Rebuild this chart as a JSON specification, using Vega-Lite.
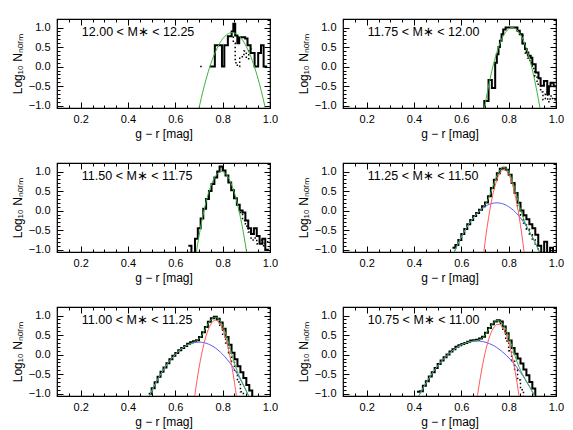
{
"$schema":"https://vega.github.io/schema/vega-lite/v6.json",
"padding":{"left":10,"top":17,"right":4,"bottom":2},
"background":"white",
"columns":2,
"spacing":{"row":55,"column":73},
"bounds":"flush",
"datasets":{
"lab":[
{"p":1,"x":0.205,"y":0.88,"t":"12.00 < M∗ < 12.25"},
{"p":2,"x":0.205,"y":0.88,"t":"11.75 < M∗ < 12.00"},
{"p":3,"x":0.205,"y":0.88,"t":"11.50 < M∗ < 11.75"},
{"p":4,"x":0.205,"y":0.88,"t":"11.25 < M∗ < 11.50"},
{"p":5,"x":0.205,"y":0.88,"t":"11.00 < M∗ < 11.25"},
{"p":6,"x":0.205,"y":0.88,"t":"10.75 < M∗ < 11.00"}
],
"c":[
{"p":1,"s":"h","x":0.745,"y":0},{"p":1,"s":"h","x":0.767,"y":0.55},{"p":1,"s":"h","x":0.797,"y":0},{"p":1,"s":"h","x":0.807,"y":0.55},{"p":1,"s":"h","x":0.822,"y":0.78},{"p":1,"s":"h","x":0.838,"y":0.9},{"p":1,"s":"h","x":0.845,"y":1.1},{"p":1,"s":"h","x":0.853,"y":0.8},{"p":1,"s":"h","x":0.862,"y":0.6},{"p":1,"s":"h","x":0.87,"y":0.75},{"p":1,"s":"h","x":0.895,"y":0.72},{"p":1,"s":"h","x":0.905,"y":0.55},{"p":1,"s":"h","x":0.918,"y":0.35},{"p":1,"s":"h","x":0.935,"y":0},{"p":1,"s":"h","x":0.95,"y":0.35},{"p":1,"s":"h","x":0.962,"y":0.55},{"p":1,"s":"h","x":0.973,"y":0},{"p":1,"s":"h","x":0.988,"y":0},
{"p":1,"s":"d","k":1,"x":0.705,"y":0},{"p":1,"s":"d","k":1,"x":0.715,"y":0},
{"p":1,"s":"d","k":2,"x":0.83,"y":0.78},{"p":1,"s":"d","k":2,"x":0.845,"y":0.6},{"p":1,"s":"d","k":2,"x":0.853,"y":0.1},{"p":1,"s":"d","k":2,"x":0.862,"y":0},{"p":1,"s":"d","k":2,"x":0.872,"y":0.25},{"p":1,"s":"d","k":2,"x":0.89,"y":0.4},{"p":1,"s":"d","k":2,"x":0.9,"y":0.2},{"p":1,"s":"d","k":2,"x":0.91,"y":0.45},{"p":1,"s":"d","k":2,"x":0.925,"y":0.45},
{"p":1,"s":"g","x":0.69,"y":-1.346},{"p":1,"s":"g","x":0.70,"y":-1.061},{"p":1,"s":"g","x":0.71,"y":-0.795},{"p":1,"s":"g","x":0.72,"y":-0.548},{"p":1,"s":"g","x":0.73,"y":-0.322},{"p":1,"s":"g","x":0.74,"y":-0.115},{"p":1,"s":"g","x":0.75,"y":0.072},{"p":1,"s":"g","x":0.76,"y":0.24},{"p":1,"s":"g","x":0.77,"y":0.387},{"p":1,"s":"g","x":0.78,"y":0.515},{"p":1,"s":"g","x":0.79,"y":0.624},{"p":1,"s":"g","x":0.80,"y":0.712},{"p":1,"s":"g","x":0.81,"y":0.781},{"p":1,"s":"g","x":0.82,"y":0.831},{"p":1,"s":"g","x":0.83,"y":0.86},{"p":1,"s":"g","x":0.84,"y":0.87},{"p":1,"s":"g","x":0.85,"y":0.86},{"p":1,"s":"g","x":0.86,"y":0.831},{"p":1,"s":"g","x":0.87,"y":0.781},{"p":1,"s":"g","x":0.88,"y":0.712},{"p":1,"s":"g","x":0.89,"y":0.624},{"p":1,"s":"g","x":0.90,"y":0.515},{"p":1,"s":"g","x":0.91,"y":0.387},{"p":1,"s":"g","x":0.92,"y":0.24},{"p":1,"s":"g","x":0.93,"y":0.072},{"p":1,"s":"g","x":0.94,"y":-0.115},{"p":1,"s":"g","x":0.95,"y":-0.322},{"p":1,"s":"g","x":0.96,"y":-0.548},{"p":1,"s":"g","x":0.97,"y":-0.795},{"p":1,"s":"g","x":0.98,"y":-1.061},{"p":1,"s":"g","x":0.99,"y":-1.346},

{"p":2,"s":"h","x":0.69,"y":-1.2},{"p":2,"s":"h","x":0.697,"y":-0.88},{"p":2,"s":"h","x":0.715,"y":-0.34},{"p":2,"s":"h","x":0.729,"y":-0.55},{"p":2,"s":"h","x":0.743,"y":0.1},{"p":2,"s":"h","x":0.75,"y":0.32},{"p":2,"s":"h","x":0.757,"y":0.5},{"p":2,"s":"h","x":0.763,"y":0.66},{"p":2,"s":"h","x":0.77,"y":0.83},{"p":2,"s":"h","x":0.777,"y":0.95},{"p":2,"s":"h","x":0.787,"y":1.0},{"p":2,"s":"h","x":0.837,"y":0.92},{"p":2,"s":"h","x":0.847,"y":0.83},{"p":2,"s":"h","x":0.858,"y":0.59},{"p":2,"s":"h","x":0.869,"y":0.45},{"p":2,"s":"h","x":0.876,"y":0.36},{"p":2,"s":"h","x":0.883,"y":0.28},{"p":2,"s":"h","x":0.893,"y":0.23},{"p":2,"s":"h","x":0.9,"y":0.06},{"p":2,"s":"h","x":0.914,"y":-0.15},{"p":2,"s":"h","x":0.926,"y":-0.3},{"p":2,"s":"h","x":0.935,"y":-0.49},{"p":2,"s":"h","x":0.949,"y":-0.37},{"p":2,"s":"h","x":0.963,"y":-0.71},{"p":2,"s":"h","x":0.97,"y":-0.5},{"p":2,"s":"h","x":0.977,"y":-0.41},{"p":2,"s":"h","x":0.99,"y":-0.5},{"p":2,"s":"h","x":1.0,"y":-0.5},
{"p":2,"s":"d","k":1,"x":0.84,"y":0.9},{"p":2,"s":"d","k":1,"x":0.85,"y":0.8},{"p":2,"s":"d","k":1,"x":0.86,"y":0.55},{"p":2,"s":"d","k":1,"x":0.87,"y":0.35},{"p":2,"s":"d","k":1,"x":0.88,"y":0.22},{"p":2,"s":"d","k":1,"x":0.89,"y":0.1},{"p":2,"s":"d","k":1,"x":0.9,"y":-0.05},{"p":2,"s":"d","k":1,"x":0.91,"y":-0.25},{"p":2,"s":"d","k":1,"x":0.92,"y":-0.45},{"p":2,"s":"d","k":1,"x":0.935,"y":-0.65},{"p":2,"s":"d","k":1,"x":0.945,"y":-0.85},{"p":2,"s":"d","k":1,"x":0.955,"y":-0.7},{"p":2,"s":"d","k":1,"x":0.965,"y":-0.9},{"p":2,"s":"d","k":1,"x":0.975,"y":-0.75},{"p":2,"s":"d","k":1,"x":0.985,"y":-0.85},{"p":2,"s":"d","k":1,"x":1.0,"y":-0.85},
{"p":2,"s":"g","x":0.695,"y":-1.16},{"p":2,"s":"g","x":0.705,"y":-0.815},{"p":2,"s":"g","x":0.715,"y":-0.5},{"p":2,"s":"g","x":0.725,"y":-0.215},{"p":2,"s":"g","x":0.735,"y":0.04},{"p":2,"s":"g","x":0.745,"y":0.265},{"p":2,"s":"g","x":0.755,"y":0.46},{"p":2,"s":"g","x":0.765,"y":0.625},{"p":2,"s":"g","x":0.775,"y":0.76},{"p":2,"s":"g","x":0.785,"y":0.865},{"p":2,"s":"g","x":0.795,"y":0.94},{"p":2,"s":"g","x":0.805,"y":0.985},{"p":2,"s":"g","x":0.815,"y":1.0},{"p":2,"s":"g","x":0.825,"y":0.985},{"p":2,"s":"g","x":0.835,"y":0.94},{"p":2,"s":"g","x":0.845,"y":0.865},{"p":2,"s":"g","x":0.855,"y":0.76},{"p":2,"s":"g","x":0.865,"y":0.625},{"p":2,"s":"g","x":0.875,"y":0.46},{"p":2,"s":"g","x":0.885,"y":0.265},{"p":2,"s":"g","x":0.895,"y":0.04},{"p":2,"s":"g","x":0.905,"y":-0.215},{"p":2,"s":"g","x":0.915,"y":-0.5},{"p":2,"s":"g","x":0.925,"y":-0.815},{"p":2,"s":"g","x":0.935,"y":-1.16},

{"p":3,"s":"h","x":0.655,"y":-0.9},{"p":3,"s":"h","x":0.668,"y":-1.2},{"p":3,"s":"h","x":0.683,"y":-0.72},{"p":3,"s":"h","x":0.695,"y":-0.45},{"p":3,"s":"h","x":0.707,"y":-0.2},{"p":3,"s":"h","x":0.718,"y":0.05},{"p":3,"s":"h","x":0.73,"y":0.3},{"p":3,"s":"h","x":0.742,"y":0.5},{"p":3,"s":"h","x":0.753,"y":0.68},{"p":3,"s":"h","x":0.765,"y":0.85},{"p":3,"s":"h","x":0.777,"y":1.0},{"p":3,"s":"h","x":0.787,"y":1.13},{"p":3,"s":"h","x":0.8,"y":1.03},{"p":3,"s":"h","x":0.812,"y":0.9},{"p":3,"s":"h","x":0.824,"y":0.72},{"p":3,"s":"h","x":0.836,"y":0.52},{"p":3,"s":"h","x":0.848,"y":0.32},{"p":3,"s":"h","x":0.86,"y":0.15},{"p":3,"s":"h","x":0.872,"y":0},{"p":3,"s":"h","x":0.884,"y":-0.05},{"p":3,"s":"h","x":0.896,"y":-0.25},{"p":3,"s":"h","x":0.908,"y":-0.45},{"p":3,"s":"h","x":0.92,"y":-0.6},{"p":3,"s":"h","x":0.932,"y":-0.45},{"p":3,"s":"h","x":0.944,"y":-0.65},{"p":3,"s":"h","x":0.956,"y":-0.85},{"p":3,"s":"h","x":0.968,"y":-0.72},{"p":3,"s":"h","x":0.98,"y":-1.0},{"p":3,"s":"h","x":0.995,"y":-1.0},
{"p":3,"s":"d","k":1,"x":0.872,"y":-0.05},{"p":3,"s":"d","k":1,"x":0.884,"y":-0.25},{"p":3,"s":"d","k":1,"x":0.896,"y":-0.4},{"p":3,"s":"d","k":1,"x":0.908,"y":-0.55},{"p":3,"s":"d","k":1,"x":0.92,"y":-0.75},{"p":3,"s":"d","k":1,"x":0.932,"y":-0.7},{"p":3,"s":"d","k":1,"x":0.944,"y":-0.85},{"p":3,"s":"d","k":1,"x":0.956,"y":-0.75},{"p":3,"s":"d","k":1,"x":0.968,"y":-0.9},{"p":3,"s":"d","k":1,"x":0.98,"y":-0.8},{"p":3,"s":"d","k":1,"x":0.995,"y":-0.8},
{"p":3,"s":"g","x":0.689,"y":-1.056},{"p":3,"s":"g","x":0.695,"y":-0.83},{"p":3,"s":"g","x":0.705,"y":-0.482},{"p":3,"s":"g","x":0.715,"y":-0.171},{"p":3,"s":"g","x":0.725,"y":0.103},{"p":3,"s":"g","x":0.735,"y":0.341},{"p":3,"s":"g","x":0.745,"y":0.543},{"p":3,"s":"g","x":0.755,"y":0.707},{"p":3,"s":"g","x":0.765,"y":0.835},{"p":3,"s":"g","x":0.775,"y":0.927},{"p":3,"s":"g","x":0.785,"y":0.982},{"p":3,"s":"g","x":0.795,"y":1.0},{"p":3,"s":"g","x":0.805,"y":0.982},{"p":3,"s":"g","x":0.815,"y":0.927},{"p":3,"s":"g","x":0.825,"y":0.835},{"p":3,"s":"g","x":0.835,"y":0.707},{"p":3,"s":"g","x":0.845,"y":0.543},{"p":3,"s":"g","x":0.855,"y":0.341},{"p":3,"s":"g","x":0.865,"y":0.103},{"p":3,"s":"g","x":0.875,"y":-0.171},{"p":3,"s":"g","x":0.885,"y":-0.482},{"p":3,"s":"g","x":0.895,"y":-0.83},{"p":3,"s":"g","x":0.905,"y":-1.214},

{"p":4,"s":"h","x":0.5625,"y":-0.95},{"p":4,"s":"h","x":0.575,"y":-0.88},{"p":4,"s":"h","x":0.5875,"y":-0.75},{"p":4,"s":"h","x":0.6,"y":-0.6},{"p":4,"s":"h","x":0.6125,"y":-0.47},{"p":4,"s":"h","x":0.625,"y":-0.35},{"p":4,"s":"h","x":0.6375,"y":-0.24},{"p":4,"s":"h","x":0.65,"y":-0.14},{"p":4,"s":"h","x":0.6625,"y":-0.06},{"p":4,"s":"h","x":0.675,"y":0.02},{"p":4,"s":"h","x":0.6875,"y":0.11},{"p":4,"s":"h","x":0.7,"y":0.21},{"p":4,"s":"h","x":0.7125,"y":0.37},{"p":4,"s":"h","x":0.725,"y":0.58},{"p":4,"s":"h","x":0.7375,"y":0.79},{"p":4,"s":"h","x":0.75,"y":0.96},{"p":4,"s":"h","x":0.7625,"y":1.07},{"p":4,"s":"h","x":0.775,"y":1.1},{"p":4,"s":"h","x":0.7875,"y":1.05},{"p":4,"s":"h","x":0.8,"y":0.92},{"p":4,"s":"h","x":0.8125,"y":0.71},{"p":4,"s":"h","x":0.825,"y":0.45},{"p":4,"s":"h","x":0.8375,"y":0.2},{"p":4,"s":"h","x":0.85,"y":0.0},{"p":4,"s":"h","x":0.8625,"y":-0.12},{"p":4,"s":"h","x":0.875,"y":-0.22},{"p":4,"s":"h","x":0.8875,"y":-0.35},{"p":4,"s":"h","x":0.9,"y":-0.45},{"p":4,"s":"h","x":0.9125,"y":-0.62},{"p":4,"s":"h","x":0.925,"y":-0.9},{"p":4,"s":"h","x":0.9375,"y":-1.2},{"p":4,"s":"h","x":0.95,"y":-0.8},{"p":4,"s":"h","x":0.9625,"y":-1.2},{"p":4,"s":"h","x":0.975,"y":-0.95},{"p":4,"s":"h","x":0.9875,"y":-1.2},{"p":4,"s":"h","x":1.0,"y":-1.2},
{"p":4,"s":"d","k":1,"x":0.8125,"y":0.71},{"p":4,"s":"d","k":1,"x":0.825,"y":0.42},{"p":4,"s":"d","k":1,"x":0.8375,"y":0.12},{"p":4,"s":"d","k":1,"x":0.85,"y":-0.12},{"p":4,"s":"d","k":1,"x":0.8625,"y":-0.32},{"p":4,"s":"d","k":1,"x":0.875,"y":-0.48},{"p":4,"s":"d","k":1,"x":0.8875,"y":-0.62},{"p":4,"s":"d","k":1,"x":0.9,"y":-0.75},{"p":4,"s":"d","k":1,"x":0.9125,"y":-0.9},{"p":4,"s":"d","k":1,"x":0.925,"y":-1.2},
{"p":4,"s":"b","x":0.56,"y":-1.204},{"p":4,"s":"b","x":0.58,"y":-0.924},{"p":4,"s":"b","x":0.60,"y":-0.675},{"p":4,"s":"b","x":0.62,"y":-0.457},{"p":4,"s":"b","x":0.64,"y":-0.271},{"p":4,"s":"b","x":0.66,"y":-0.115},{"p":4,"s":"b","x":0.68,"y":0.009},{"p":4,"s":"b","x":0.70,"y":0.103},{"p":4,"s":"b","x":0.72,"y":0.165},{"p":4,"s":"b","x":0.74,"y":0.196},{"p":4,"s":"b","x":0.75,"y":0.2},{"p":4,"s":"b","x":0.76,"y":0.196},{"p":4,"s":"b","x":0.78,"y":0.165},{"p":4,"s":"b","x":0.80,"y":0.103},{"p":4,"s":"b","x":0.82,"y":0.009},{"p":4,"s":"b","x":0.84,"y":-0.115},{"p":4,"s":"b","x":0.86,"y":-0.271},{"p":4,"s":"b","x":0.88,"y":-0.457},{"p":4,"s":"b","x":0.90,"y":-0.675},{"p":4,"s":"b","x":0.92,"y":-0.924},{"p":4,"s":"b","x":0.94,"y":-1.204},
{"p":4,"s":"r","x":0.695,"y":-1.06},{"p":4,"s":"r","x":0.70,"y":-0.819},{"p":4,"s":"r","x":0.71,"y":-0.381},{"p":4,"s":"r","x":0.72,"y":-0.001},{"p":4,"s":"r","x":0.73,"y":0.32},{"p":4,"s":"r","x":0.74,"y":0.583},{"p":4,"s":"r","x":0.75,"y":0.787},{"p":4,"s":"r","x":0.76,"y":0.933},{"p":4,"s":"r","x":0.77,"y":1.021},{"p":4,"s":"r","x":0.78,"y":1.05},{"p":4,"s":"r","x":0.79,"y":1.021},{"p":4,"s":"r","x":0.80,"y":0.933},{"p":4,"s":"r","x":0.81,"y":0.787},{"p":4,"s":"r","x":0.82,"y":0.583},{"p":4,"s":"r","x":0.83,"y":0.32},{"p":4,"s":"r","x":0.84,"y":-0.001},{"p":4,"s":"r","x":0.85,"y":-0.381},{"p":4,"s":"r","x":0.86,"y":-0.819},{"p":4,"s":"r","x":0.865,"y":-1.06},
{"p":4,"s":"g","x":0.56,"y":-1.204},{"p":4,"s":"g","x":0.57,"y":-1.06},{"p":4,"s":"g","x":0.58,"y":-0.924},{"p":4,"s":"g","x":0.59,"y":-0.796},{"p":4,"s":"g","x":0.60,"y":-0.675},{"p":4,"s":"g","x":0.61,"y":-0.562},{"p":4,"s":"g","x":0.62,"y":-0.457},{"p":4,"s":"g","x":0.63,"y":-0.36},{"p":4,"s":"g","x":0.64,"y":-0.271},{"p":4,"s":"g","x":0.65,"y":-0.189},{"p":4,"s":"g","x":0.66,"y":-0.115},{"p":4,"s":"g","x":0.67,"y":-0.049},{"p":4,"s":"g","x":0.68,"y":0.015},{"p":4,"s":"g","x":0.69,"y":0.078},{"p":4,"s":"g","x":0.70,"y":0.152},{"p":4,"s":"g","x":0.71,"y":0.253},{"p":4,"s":"g","x":0.72,"y":0.391},{"p":4,"s":"g","x":0.73,"y":0.558},{"p":4,"s":"g","x":0.74,"y":0.732},{"p":4,"s":"g","x":0.75,"y":0.887},{"p":4,"s":"g","x":0.76,"y":1.006},{"p":4,"s":"g","x":0.77,"y":1.08},{"p":4,"s":"g","x":0.78,"y":1.103},{"p":4,"s":"g","x":0.79,"y":1.075},{"p":4,"s":"g","x":0.80,"y":0.993},{"p":4,"s":"g","x":0.81,"y":0.862},{"p":4,"s":"g","x":0.82,"y":0.686},{"p":4,"s":"g","x":0.83,"y":0.475},{"p":4,"s":"g","x":0.84,"y":0.247},{"p":4,"s":"g","x":0.85,"y":0.027},{"p":4,"s":"g","x":0.86,"y":-0.162},{"p":4,"s":"g","x":0.87,"y":-0.314},{"p":4,"s":"g","x":0.88,"y":-0.44},{"p":4,"s":"g","x":0.89,"y":-0.557},{"p":4,"s":"g","x":0.90,"y":-0.675},{"p":4,"s":"g","x":0.91,"y":-0.796},{"p":4,"s":"g","x":0.92,"y":-0.924},{"p":4,"s":"g","x":0.93,"y":-1.06},{"p":4,"s":"g","x":0.94,"y":-1.204},

{"p":5,"s":"h","x":0.4875,"y":-1.0},{"p":5,"s":"h","x":0.5,"y":-0.86},{"p":5,"s":"h","x":0.5125,"y":-0.71},{"p":5,"s":"h","x":0.525,"y":-0.57},{"p":5,"s":"h","x":0.5375,"y":-0.44},{"p":5,"s":"h","x":0.55,"y":-0.33},{"p":5,"s":"h","x":0.5625,"y":-0.22},{"p":5,"s":"h","x":0.575,"y":-0.12},{"p":5,"s":"h","x":0.5875,"y":-0.03},{"p":5,"s":"h","x":0.6,"y":0.04},{"p":5,"s":"h","x":0.6125,"y":0.11},{"p":5,"s":"h","x":0.625,"y":0.17},{"p":5,"s":"h","x":0.6375,"y":0.22},{"p":5,"s":"h","x":0.65,"y":0.28},{"p":5,"s":"h","x":0.6625,"y":0.32},{"p":5,"s":"h","x":0.675,"y":0.34},{"p":5,"s":"h","x":0.6875,"y":0.37},{"p":5,"s":"h","x":0.7,"y":0.45},{"p":5,"s":"h","x":0.7125,"y":0.57},{"p":5,"s":"h","x":0.725,"y":0.71},{"p":5,"s":"h","x":0.7375,"y":0.84},{"p":5,"s":"h","x":0.75,"y":0.93},{"p":5,"s":"h","x":0.7625,"y":0.97},{"p":5,"s":"h","x":0.775,"y":0.92},{"p":5,"s":"h","x":0.7875,"y":0.82},{"p":5,"s":"h","x":0.8,"y":0.66},{"p":5,"s":"h","x":0.8125,"y":0.45},{"p":5,"s":"h","x":0.825,"y":0.25},{"p":5,"s":"h","x":0.8375,"y":0.05},{"p":5,"s":"h","x":0.85,"y":-0.12},{"p":5,"s":"h","x":0.8625,"y":-0.3},{"p":5,"s":"h","x":0.875,"y":-0.45},{"p":5,"s":"h","x":0.8875,"y":-0.6},{"p":5,"s":"h","x":0.9,"y":-0.78},{"p":5,"s":"h","x":0.9125,"y":-0.92},{"p":5,"s":"h","x":0.925,"y":-1.2},{"p":5,"s":"h","x":0.9375,"y":-1.2},
{"p":5,"s":"d","k":1,"x":0.7625,"y":0.93},{"p":5,"s":"d","k":1,"x":0.775,"y":0.85},{"p":5,"s":"d","k":1,"x":0.7875,"y":0.72},{"p":5,"s":"d","k":1,"x":0.8,"y":0.52},{"p":5,"s":"d","k":1,"x":0.8125,"y":0.3},{"p":5,"s":"d","k":1,"x":0.825,"y":0.05},{"p":5,"s":"d","k":1,"x":0.8375,"y":-0.2},{"p":5,"s":"d","k":1,"x":0.85,"y":-0.45},{"p":5,"s":"d","k":1,"x":0.8625,"y":-0.7},{"p":5,"s":"d","k":1,"x":0.875,"y":-0.95},{"p":5,"s":"d","k":1,"x":0.8875,"y":-1.2},
{"p":5,"s":"b","x":0.48,"y":-1.195},{"p":5,"s":"b","x":0.50,"y":-0.932},{"p":5,"s":"b","x":0.52,"y":-0.694},{"p":5,"s":"b","x":0.54,"y":-0.481},{"p":5,"s":"b","x":0.56,"y":-0.293},{"p":5,"s":"b","x":0.58,"y":-0.131},{"p":5,"s":"b","x":0.60,"y":0.007},{"p":5,"s":"b","x":0.62,"y":0.12},{"p":5,"s":"b","x":0.64,"y":0.207},{"p":5,"s":"b","x":0.66,"y":0.27},{"p":5,"s":"b","x":0.68,"y":0.3075},{"p":5,"s":"b","x":0.70,"y":0.32},{"p":5,"s":"b","x":0.72,"y":0.3075},{"p":5,"s":"b","x":0.74,"y":0.27},{"p":5,"s":"b","x":0.76,"y":0.207},{"p":5,"s":"b","x":0.78,"y":0.12},{"p":5,"s":"b","x":0.80,"y":0.007},{"p":5,"s":"b","x":0.82,"y":-0.131},{"p":5,"s":"b","x":0.84,"y":-0.293},{"p":5,"s":"b","x":0.86,"y":-0.481},{"p":5,"s":"b","x":0.88,"y":-0.694},{"p":5,"s":"b","x":0.90,"y":-0.932},{"p":5,"s":"b","x":0.92,"y":-1.195},
{"p":5,"s":"r","x":0.682,"y":-1.06},{"p":5,"s":"r","x":0.69,"y":-0.72},{"p":5,"s":"r","x":0.70,"y":-0.345},{"p":5,"s":"r","x":0.71,"y":-0.02},{"p":5,"s":"r","x":0.72,"y":0.255},{"p":5,"s":"r","x":0.73,"y":0.48},{"p":5,"s":"r","x":0.74,"y":0.655},{"p":5,"s":"r","x":0.75,"y":0.78},{"p":5,"s":"r","x":0.76,"y":0.855},{"p":5,"s":"r","x":0.77,"y":0.88},{"p":5,"s":"r","x":0.78,"y":0.855},{"p":5,"s":"r","x":0.79,"y":0.78},{"p":5,"s":"r","x":0.80,"y":0.655},{"p":5,"s":"r","x":0.81,"y":0.48},{"p":5,"s":"r","x":0.82,"y":0.255},{"p":5,"s":"r","x":0.83,"y":-0.02},{"p":5,"s":"r","x":0.84,"y":-0.345},{"p":5,"s":"r","x":0.85,"y":-0.72},{"p":5,"s":"r","x":0.858,"y":-1.06},
{"p":5,"s":"g","x":0.48,"y":-1.195},{"p":5,"s":"g","x":0.50,"y":-0.932},{"p":5,"s":"g","x":0.52,"y":-0.694},{"p":5,"s":"g","x":0.54,"y":-0.481},{"p":5,"s":"g","x":0.56,"y":-0.293},{"p":5,"s":"g","x":0.58,"y":-0.131},{"p":5,"s":"g","x":0.60,"y":0.007},{"p":5,"s":"g","x":0.62,"y":0.12},{"p":5,"s":"g","x":0.64,"y":0.207},{"p":5,"s":"g","x":0.66,"y":0.272},{"p":5,"s":"g","x":0.67,"y":0.297},{"p":5,"s":"g","x":0.68,"y":0.323},{"p":5,"s":"g","x":0.69,"y":0.355},{"p":5,"s":"g","x":0.70,"y":0.405},{"p":5,"s":"g","x":0.71,"y":0.481},{"p":5,"s":"g","x":0.72,"y":0.583},{"p":5,"s":"g","x":0.73,"y":0.697},{"p":5,"s":"g","x":0.74,"y":0.805},{"p":5,"s":"g","x":0.75,"y":0.891},{"p":5,"s":"g","x":0.76,"y":0.943},{"p":5,"s":"g","x":0.77,"y":0.957},{"p":5,"s":"g","x":0.78,"y":0.928},{"p":5,"s":"g","x":0.79,"y":0.857},{"p":5,"s":"g","x":0.80,"y":0.743},{"p":5,"s":"g","x":0.81,"y":0.59},{"p":5,"s":"g","x":0.82,"y":0.405},{"p":5,"s":"g","x":0.83,"y":0.197},{"p":5,"s":"g","x":0.84,"y":-0.017},{"p":5,"s":"g","x":0.85,"y":-0.22},{"p":5,"s":"g","x":0.86,"y":-0.396},{"p":5,"s":"g","x":0.87,"y":-0.547},{"p":5,"s":"g","x":0.88,"y":-0.68},{"p":5,"s":"g","x":0.90,"y":-0.932},{"p":5,"s":"g","x":0.92,"y":-1.195},

{"p":6,"s":"h","x":0.4125,"y":-0.95},{"p":6,"s":"h","x":0.425,"y":-0.94},{"p":6,"s":"h","x":0.4375,"y":-0.8},{"p":6,"s":"h","x":0.45,"y":-0.68},{"p":6,"s":"h","x":0.4625,"y":-0.56},{"p":6,"s":"h","x":0.475,"y":-0.45},{"p":6,"s":"h","x":0.4875,"y":-0.34},{"p":6,"s":"h","x":0.5,"y":-0.24},{"p":6,"s":"h","x":0.5125,"y":-0.15},{"p":6,"s":"h","x":0.525,"y":-0.07},{"p":6,"s":"h","x":0.5375,"y":0.0},{"p":6,"s":"h","x":0.55,"y":0.08},{"p":6,"s":"h","x":0.5625,"y":0.14},{"p":6,"s":"h","x":0.575,"y":0.2},{"p":6,"s":"h","x":0.5875,"y":0.24},{"p":6,"s":"h","x":0.6,"y":0.27},{"p":6,"s":"h","x":0.6125,"y":0.3},{"p":6,"s":"h","x":0.625,"y":0.33},{"p":6,"s":"h","x":0.6375,"y":0.36},{"p":6,"s":"h","x":0.65,"y":0.37},{"p":6,"s":"h","x":0.6625,"y":0.38},{"p":6,"s":"h","x":0.675,"y":0.41},{"p":6,"s":"h","x":0.6875,"y":0.46},{"p":6,"s":"h","x":0.7,"y":0.56},{"p":6,"s":"h","x":0.7125,"y":0.68},{"p":6,"s":"h","x":0.725,"y":0.78},{"p":6,"s":"h","x":0.7375,"y":0.85},{"p":6,"s":"h","x":0.75,"y":0.88},{"p":6,"s":"h","x":0.7625,"y":0.85},{"p":6,"s":"h","x":0.775,"y":0.72},{"p":6,"s":"h","x":0.7875,"y":0.55},{"p":6,"s":"h","x":0.8,"y":0.36},{"p":6,"s":"h","x":0.8125,"y":0.17},{"p":6,"s":"h","x":0.825,"y":0.02},{"p":6,"s":"h","x":0.8375,"y":-0.1},{"p":6,"s":"h","x":0.85,"y":-0.23},{"p":6,"s":"h","x":0.8625,"y":-0.38},{"p":6,"s":"h","x":0.875,"y":-0.53},{"p":6,"s":"h","x":0.8875,"y":-0.7},{"p":6,"s":"h","x":0.9,"y":-0.87},{"p":6,"s":"h","x":0.9125,"y":-1.2},{"p":6,"s":"h","x":0.925,"y":-1.2},
{"p":6,"s":"d","k":1,"x":0.7625,"y":0.8},{"p":6,"s":"d","k":1,"x":0.775,"y":0.6},{"p":6,"s":"d","k":1,"x":0.7875,"y":0.35},{"p":6,"s":"d","k":1,"x":0.8,"y":0.1},{"p":6,"s":"d","k":1,"x":0.8125,"y":-0.15},{"p":6,"s":"d","k":1,"x":0.825,"y":-0.4},{"p":6,"s":"d","k":1,"x":0.8375,"y":-0.65},{"p":6,"s":"d","k":1,"x":0.85,"y":-0.9},{"p":6,"s":"d","k":1,"x":0.8625,"y":-1.2},
{"p":6,"s":"b","x":0.40,"y":-1.3},{"p":6,"s":"b","x":0.42,"y":-1.061},{"p":6,"s":"b","x":0.44,"y":-0.84},{"p":6,"s":"b","x":0.46,"y":-0.638},{"p":6,"s":"b","x":0.48,"y":-0.454},{"p":6,"s":"b","x":0.50,"y":-0.29},{"p":6,"s":"b","x":0.52,"y":-0.144},{"p":6,"s":"b","x":0.54,"y":-0.017},{"p":6,"s":"b","x":0.56,"y":0.091},{"p":6,"s":"b","x":0.58,"y":0.18},{"p":6,"s":"b","x":0.60,"y":0.251},{"p":6,"s":"b","x":0.62,"y":0.302},{"p":6,"s":"b","x":0.64,"y":0.335},{"p":6,"s":"b","x":0.665,"y":0.35},{"p":6,"s":"b","x":0.69,"y":0.335},{"p":6,"s":"b","x":0.71,"y":0.302},{"p":6,"s":"b","x":0.73,"y":0.251},{"p":6,"s":"b","x":0.75,"y":0.18},{"p":6,"s":"b","x":0.77,"y":0.091},{"p":6,"s":"b","x":0.79,"y":-0.017},{"p":6,"s":"b","x":0.81,"y":-0.144},{"p":6,"s":"b","x":0.83,"y":-0.29},{"p":6,"s":"b","x":0.85,"y":-0.454},{"p":6,"s":"b","x":0.87,"y":-0.638},{"p":6,"s":"b","x":0.89,"y":-0.84},{"p":6,"s":"b","x":0.91,"y":-1.061},{"p":6,"s":"b","x":0.93,"y":-1.3},
{"p":6,"s":"r","x":0.666,"y":-1.148},{"p":6,"s":"r","x":0.67,"y":-0.98},{"p":6,"s":"r","x":0.68,"y":-0.595},{"p":6,"s":"r","x":0.69,"y":-0.257},{"p":6,"s":"r","x":0.70,"y":0.034},{"p":6,"s":"r","x":0.71,"y":0.276},{"p":6,"s":"r","x":0.72,"y":0.472},{"p":6,"s":"r","x":0.73,"y":0.619},{"p":6,"s":"r","x":0.74,"y":0.719},{"p":6,"s":"r","x":0.75,"y":0.771},{"p":6,"s":"r","x":0.76,"y":0.776},{"p":6,"s":"r","x":0.77,"y":0.733},{"p":6,"s":"r","x":0.78,"y":0.643},{"p":6,"s":"r","x":0.79,"y":0.505},{"p":6,"s":"r","x":0.80,"y":0.319},{"p":6,"s":"r","x":0.81,"y":0.086},{"p":6,"s":"r","x":0.82,"y":-0.195},{"p":6,"s":"r","x":0.83,"y":-0.523},{"p":6,"s":"r","x":0.84,"y":-0.899},{"p":6,"s":"r","x":0.846,"y":-1.148},
{"p":6,"s":"g","x":0.40,"y":-1.3},{"p":6,"s":"g","x":0.42,"y":-1.061},{"p":6,"s":"g","x":0.44,"y":-0.84},{"p":6,"s":"g","x":0.46,"y":-0.638},{"p":6,"s":"g","x":0.48,"y":-0.454},{"p":6,"s":"g","x":0.50,"y":-0.29},{"p":6,"s":"g","x":0.52,"y":-0.144},{"p":6,"s":"g","x":0.54,"y":-0.017},{"p":6,"s":"g","x":0.56,"y":0.091},{"p":6,"s":"g","x":0.58,"y":0.18},{"p":6,"s":"g","x":0.60,"y":0.251},{"p":6,"s":"g","x":0.62,"y":0.302},{"p":6,"s":"g","x":0.64,"y":0.335},{"p":6,"s":"g","x":0.66,"y":0.355},{"p":6,"s":"g","x":0.67,"y":0.369},{"p":6,"s":"g","x":0.68,"y":0.392},{"p":6,"s":"g","x":0.69,"y":0.434},{"p":6,"s":"g","x":0.70,"y":0.502},{"p":6,"s":"g","x":0.71,"y":0.59},{"p":6,"s":"g","x":0.72,"y":0.687},{"p":6,"s":"g","x":0.73,"y":0.774},{"p":6,"s":"g","x":0.74,"y":0.838},{"p":6,"s":"g","x":0.75,"y":0.87},{"p":6,"s":"g","x":0.76,"y":0.866},{"p":6,"s":"g","x":0.77,"y":0.822},{"p":6,"s":"g","x":0.78,"y":0.739},{"p":6,"s":"g","x":0.79,"y":0.619},{"p":6,"s":"g","x":0.80,"y":0.465},{"p":6,"s":"g","x":0.81,"y":0.287},{"p":6,"s":"g","x":0.82,"y":0.096},{"p":6,"s":"g","x":0.83,"y":-0.09},{"p":6,"s":"g","x":0.84,"y":-0.257},{"p":6,"s":"g","x":0.85,"y":-0.398},{"p":6,"s":"g","x":0.86,"y":-0.52},{"p":6,"s":"g","x":0.87,"y":-0.629},{"p":6,"s":"g","x":0.88,"y":-0.732},{"p":6,"s":"g","x":0.89,"y":-0.84},{"p":6,"s":"g","x":0.90,"y":-0.948},{"p":6,"s":"g","x":0.91,"y":-1.061},{"p":6,"s":"g","x":0.93,"y":-1.3}
]
},
"concat":[
{"width":213,"height":89,"resolve":{"axis":{"x":"independent","y":"independent"}},"layer":[
{"data":{"name":"c"},"transform":[{"filter":"datum.p==1 && datum.s=='h'"}],"mark":{"type":"line","interpolate":"step-after","color":"black","strokeWidth":2,"clip":true},"encoding":{"x":{"field":"x","type":"quantitative","scale":{"domain":[0.1,1.0]},"axis":{"orient":"bottom","values":[0.1,0.15,0.2,0.25,0.3,0.35,0.4,0.45,0.5,0.55,0.6,0.65,0.7,0.75,0.8,0.85,0.9,0.95,1.0],"labelExpr":"abs(datum.value*5-round(datum.value*5))<0.001?format(datum.value,'.1f'):''","tickSize":{"condition":{"test":"abs(datum.value*5-round(datum.value*5))<0.001","value":-6},"value":-3},"labelPadding":11,"title":"g − r [mag]","titlePadding":1}},"y":{"field":"y","type":"quantitative","scale":{"domain":[-1.06,1.22]},"axis":{"orient":"left","values":[-1.0,-0.9,-0.8,-0.7,-0.6,-0.5,-0.4,-0.3,-0.2,-0.1,0.0,0.1,0.2,0.3,0.4,0.5,0.6,0.7,0.8,0.9,1.0],"labelExpr":"abs(datum.value*2-round(datum.value*2))<0.001?format(datum.value,'.1f'):''","tickSize":{"condition":{"test":"abs(datum.value*2-round(datum.value*2))<0.001","value":-6},"value":-3},"labelPadding":13,"title":"Log₁₀ Nₙₒᵣₘ","titlePadding":4}}}},
{"data":{"name":"c"},"transform":[{"filter":"datum.p==1 && datum.s=='d'"}],"mark":{"type":"line","interpolate":"step-after","color":"black","strokeWidth":1.5,"strokeDash":[1.5,2.5],"clip":true},"encoding":{"detail":{"field":"k","type":"nominal"},"x":{"field":"x","type":"quantitative","scale":{"domain":[0.1,1.0]},"axis":{"orient":"top","values":[0.1,0.15,0.2,0.25,0.3,0.35,0.4,0.45,0.5,0.55,0.6,0.65,0.7,0.75,0.8,0.85,0.9,0.95,1.0],"labels":false,"tickSize":{"condition":{"test":"abs(datum.value*5-round(datum.value*5))<0.001","value":-6},"value":-3},"title":null}},"y":{"field":"y","type":"quantitative","scale":{"domain":[-1.06,1.22]},"axis":{"orient":"right","values":[-1.0,-0.9,-0.8,-0.7,-0.6,-0.5,-0.4,-0.3,-0.2,-0.1,0.0,0.1,0.2,0.3,0.4,0.5,0.6,0.7,0.8,0.9,1.0,1.1,1.2],"labels":false,"tickSize":{"condition":{"test":"abs(datum.value*2-round(datum.value*2))<0.001","value":-6},"value":-3},"title":null}}}},
{"data":{"name":"c"},"transform":[{"filter":"datum.p==1 && datum.s=='g'"}],"mark":{"type":"line","interpolate":"monotone","color":"#3cb43c","strokeWidth":1,"clip":true},"encoding":{"x":{"field":"x","type":"quantitative","scale":{"domain":[0.1,1.0]},"axis":null},"y":{"field":"y","type":"quantitative","scale":{"domain":[-1.06,1.22]},"axis":null}}},
{"data":{"name":"lab"},"transform":[{"filter":"datum.p==1"}],"mark":{"type":"text","align":"left","baseline":"middle","fontSize":12.5,"font":"Liberation Sans","color":"black"},"encoding":{"x":{"field":"x","type":"quantitative","scale":{"domain":[0.1,1.0]},"axis":null},"y":{"field":"y","type":"quantitative","scale":{"domain":[-1.06,1.22]},"axis":null},"text":{"field":"t"}}}
]},
{"width":213,"height":89,"resolve":{"axis":{"x":"independent","y":"independent"}},"layer":[
{"data":{"name":"c"},"transform":[{"filter":"datum.p==2 && datum.s=='h'"}],"mark":{"type":"line","interpolate":"step-after","color":"black","strokeWidth":2,"clip":true},"encoding":{"x":{"field":"x","type":"quantitative","scale":{"domain":[0.1,1.0]},"axis":{"orient":"bottom","values":[0.1,0.15,0.2,0.25,0.3,0.35,0.4,0.45,0.5,0.55,0.6,0.65,0.7,0.75,0.8,0.85,0.9,0.95,1.0],"labelExpr":"abs(datum.value*5-round(datum.value*5))<0.001?format(datum.value,'.1f'):''","tickSize":{"condition":{"test":"abs(datum.value*5-round(datum.value*5))<0.001","value":-6},"value":-3},"labelPadding":11,"title":"g − r [mag]","titlePadding":1}},"y":{"field":"y","type":"quantitative","scale":{"domain":[-1.06,1.22]},"axis":{"orient":"left","values":[-1.0,-0.9,-0.8,-0.7,-0.6,-0.5,-0.4,-0.3,-0.2,-0.1,0.0,0.1,0.2,0.3,0.4,0.5,0.6,0.7,0.8,0.9,1.0],"labelExpr":"abs(datum.value*2-round(datum.value*2))<0.001?format(datum.value,'.1f'):''","tickSize":{"condition":{"test":"abs(datum.value*2-round(datum.value*2))<0.001","value":-6},"value":-3},"labelPadding":13,"title":"Log₁₀ Nₙₒᵣₘ","titlePadding":4}}}},
{"data":{"name":"c"},"transform":[{"filter":"datum.p==2 && datum.s=='d'"}],"mark":{"type":"line","interpolate":"step-after","color":"black","strokeWidth":1.5,"strokeDash":[1.5,2.5],"clip":true},"encoding":{"detail":{"field":"k","type":"nominal"},"x":{"field":"x","type":"quantitative","scale":{"domain":[0.1,1.0]},"axis":{"orient":"top","values":[0.1,0.15,0.2,0.25,0.3,0.35,0.4,0.45,0.5,0.55,0.6,0.65,0.7,0.75,0.8,0.85,0.9,0.95,1.0],"labels":false,"tickSize":{"condition":{"test":"abs(datum.value*5-round(datum.value*5))<0.001","value":-6},"value":-3},"title":null}},"y":{"field":"y","type":"quantitative","scale":{"domain":[-1.06,1.22]},"axis":{"orient":"right","values":[-1.0,-0.9,-0.8,-0.7,-0.6,-0.5,-0.4,-0.3,-0.2,-0.1,0.0,0.1,0.2,0.3,0.4,0.5,0.6,0.7,0.8,0.9,1.0,1.1,1.2],"labels":false,"tickSize":{"condition":{"test":"abs(datum.value*2-round(datum.value*2))<0.001","value":-6},"value":-3},"title":null}}}},
{"data":{"name":"c"},"transform":[{"filter":"datum.p==2 && datum.s=='g'"}],"mark":{"type":"line","interpolate":"monotone","color":"#3cb43c","strokeWidth":1,"clip":true},"encoding":{"x":{"field":"x","type":"quantitative","scale":{"domain":[0.1,1.0]},"axis":null},"y":{"field":"y","type":"quantitative","scale":{"domain":[-1.06,1.22]},"axis":null}}},
{"data":{"name":"lab"},"transform":[{"filter":"datum.p==2"}],"mark":{"type":"text","align":"left","baseline":"middle","fontSize":12.5,"font":"Liberation Sans","color":"black"},"encoding":{"x":{"field":"x","type":"quantitative","scale":{"domain":[0.1,1.0]},"axis":null},"y":{"field":"y","type":"quantitative","scale":{"domain":[-1.06,1.22]},"axis":null},"text":{"field":"t"}}}
]},
{"width":213,"height":89,"resolve":{"axis":{"x":"independent","y":"independent"}},"layer":[
{"data":{"name":"c"},"transform":[{"filter":"datum.p==3 && datum.s=='h'"}],"mark":{"type":"line","interpolate":"step-after","color":"black","strokeWidth":2,"clip":true},"encoding":{"x":{"field":"x","type":"quantitative","scale":{"domain":[0.1,1.0]},"axis":{"orient":"bottom","values":[0.1,0.15,0.2,0.25,0.3,0.35,0.4,0.45,0.5,0.55,0.6,0.65,0.7,0.75,0.8,0.85,0.9,0.95,1.0],"labelExpr":"abs(datum.value*5-round(datum.value*5))<0.001?format(datum.value,'.1f'):''","tickSize":{"condition":{"test":"abs(datum.value*5-round(datum.value*5))<0.001","value":-6},"value":-3},"labelPadding":11,"title":"g − r [mag]","titlePadding":1}},"y":{"field":"y","type":"quantitative","scale":{"domain":[-1.06,1.22]},"axis":{"orient":"left","values":[-1.0,-0.9,-0.8,-0.7,-0.6,-0.5,-0.4,-0.3,-0.2,-0.1,0.0,0.1,0.2,0.3,0.4,0.5,0.6,0.7,0.8,0.9,1.0],"labelExpr":"abs(datum.value*2-round(datum.value*2))<0.001?format(datum.value,'.1f'):''","tickSize":{"condition":{"test":"abs(datum.value*2-round(datum.value*2))<0.001","value":-6},"value":-3},"labelPadding":13,"title":"Log₁₀ Nₙₒᵣₘ","titlePadding":4}}}},
{"data":{"name":"c"},"transform":[{"filter":"datum.p==3 && datum.s=='d'"}],"mark":{"type":"line","interpolate":"step-after","color":"black","strokeWidth":1.5,"strokeDash":[1.5,2.5],"clip":true},"encoding":{"detail":{"field":"k","type":"nominal"},"x":{"field":"x","type":"quantitative","scale":{"domain":[0.1,1.0]},"axis":{"orient":"top","values":[0.1,0.15,0.2,0.25,0.3,0.35,0.4,0.45,0.5,0.55,0.6,0.65,0.7,0.75,0.8,0.85,0.9,0.95,1.0],"labels":false,"tickSize":{"condition":{"test":"abs(datum.value*5-round(datum.value*5))<0.001","value":-6},"value":-3},"title":null}},"y":{"field":"y","type":"quantitative","scale":{"domain":[-1.06,1.22]},"axis":{"orient":"right","values":[-1.0,-0.9,-0.8,-0.7,-0.6,-0.5,-0.4,-0.3,-0.2,-0.1,0.0,0.1,0.2,0.3,0.4,0.5,0.6,0.7,0.8,0.9,1.0,1.1,1.2],"labels":false,"tickSize":{"condition":{"test":"abs(datum.value*2-round(datum.value*2))<0.001","value":-6},"value":-3},"title":null}}}},
{"data":{"name":"c"},"transform":[{"filter":"datum.p==3 && datum.s=='g'"}],"mark":{"type":"line","interpolate":"monotone","color":"#3cb43c","strokeWidth":1,"clip":true},"encoding":{"x":{"field":"x","type":"quantitative","scale":{"domain":[0.1,1.0]},"axis":null},"y":{"field":"y","type":"quantitative","scale":{"domain":[-1.06,1.22]},"axis":null}}},
{"data":{"name":"lab"},"transform":[{"filter":"datum.p==3"}],"mark":{"type":"text","align":"left","baseline":"middle","fontSize":12.5,"font":"Liberation Sans","color":"black"},"encoding":{"x":{"field":"x","type":"quantitative","scale":{"domain":[0.1,1.0]},"axis":null},"y":{"field":"y","type":"quantitative","scale":{"domain":[-1.06,1.22]},"axis":null},"text":{"field":"t"}}}
]},
{"width":213,"height":89,"resolve":{"axis":{"x":"independent","y":"independent"}},"layer":[
{"data":{"name":"c"},"transform":[{"filter":"datum.p==4 && datum.s=='h'"}],"mark":{"type":"line","interpolate":"step-after","color":"black","strokeWidth":2,"clip":true},"encoding":{"x":{"field":"x","type":"quantitative","scale":{"domain":[0.1,1.0]},"axis":{"orient":"bottom","values":[0.1,0.15,0.2,0.25,0.3,0.35,0.4,0.45,0.5,0.55,0.6,0.65,0.7,0.75,0.8,0.85,0.9,0.95,1.0],"labelExpr":"abs(datum.value*5-round(datum.value*5))<0.001?format(datum.value,'.1f'):''","tickSize":{"condition":{"test":"abs(datum.value*5-round(datum.value*5))<0.001","value":-6},"value":-3},"labelPadding":11,"title":"g − r [mag]","titlePadding":1}},"y":{"field":"y","type":"quantitative","scale":{"domain":[-1.06,1.22]},"axis":{"orient":"left","values":[-1.0,-0.9,-0.8,-0.7,-0.6,-0.5,-0.4,-0.3,-0.2,-0.1,0.0,0.1,0.2,0.3,0.4,0.5,0.6,0.7,0.8,0.9,1.0],"labelExpr":"abs(datum.value*2-round(datum.value*2))<0.001?format(datum.value,'.1f'):''","tickSize":{"condition":{"test":"abs(datum.value*2-round(datum.value*2))<0.001","value":-6},"value":-3},"labelPadding":13,"title":"Log₁₀ Nₙₒᵣₘ","titlePadding":4}}}},
{"data":{"name":"c"},"transform":[{"filter":"datum.p==4 && datum.s=='d'"}],"mark":{"type":"line","interpolate":"step-after","color":"black","strokeWidth":1.5,"strokeDash":[1.5,2.5],"clip":true},"encoding":{"detail":{"field":"k","type":"nominal"},"x":{"field":"x","type":"quantitative","scale":{"domain":[0.1,1.0]},"axis":{"orient":"top","values":[0.1,0.15,0.2,0.25,0.3,0.35,0.4,0.45,0.5,0.55,0.6,0.65,0.7,0.75,0.8,0.85,0.9,0.95,1.0],"labels":false,"tickSize":{"condition":{"test":"abs(datum.value*5-round(datum.value*5))<0.001","value":-6},"value":-3},"title":null}},"y":{"field":"y","type":"quantitative","scale":{"domain":[-1.06,1.22]},"axis":{"orient":"right","values":[-1.0,-0.9,-0.8,-0.7,-0.6,-0.5,-0.4,-0.3,-0.2,-0.1,0.0,0.1,0.2,0.3,0.4,0.5,0.6,0.7,0.8,0.9,1.0,1.1,1.2],"labels":false,"tickSize":{"condition":{"test":"abs(datum.value*2-round(datum.value*2))<0.001","value":-6},"value":-3},"title":null}}}},
{"data":{"name":"c"},"transform":[{"filter":"datum.p==4 && datum.s=='b'"}],"mark":{"type":"line","interpolate":"monotone","color":"#5a5aff","strokeWidth":1,"clip":true},"encoding":{"x":{"field":"x","type":"quantitative","scale":{"domain":[0.1,1.0]},"axis":null},"y":{"field":"y","type":"quantitative","scale":{"domain":[-1.06,1.22]},"axis":null}}},
{"data":{"name":"c"},"transform":[{"filter":"datum.p==4 && datum.s=='r'"}],"mark":{"type":"line","interpolate":"monotone","color":"#ff5a5a","strokeWidth":1,"clip":true},"encoding":{"x":{"field":"x","type":"quantitative","scale":{"domain":[0.1,1.0]},"axis":null},"y":{"field":"y","type":"quantitative","scale":{"domain":[-1.06,1.22]},"axis":null}}},
{"data":{"name":"c"},"transform":[{"filter":"datum.p==4 && datum.s=='g'"}],"mark":{"type":"line","interpolate":"monotone","color":"#3cb43c","strokeWidth":1,"clip":true},"encoding":{"x":{"field":"x","type":"quantitative","scale":{"domain":[0.1,1.0]},"axis":null},"y":{"field":"y","type":"quantitative","scale":{"domain":[-1.06,1.22]},"axis":null}}},
{"data":{"name":"lab"},"transform":[{"filter":"datum.p==4"}],"mark":{"type":"text","align":"left","baseline":"middle","fontSize":12.5,"font":"Liberation Sans","color":"black"},"encoding":{"x":{"field":"x","type":"quantitative","scale":{"domain":[0.1,1.0]},"axis":null},"y":{"field":"y","type":"quantitative","scale":{"domain":[-1.06,1.22]},"axis":null},"text":{"field":"t"}}}
]},
{"width":213,"height":89,"resolve":{"axis":{"x":"independent","y":"independent"}},"layer":[
{"data":{"name":"c"},"transform":[{"filter":"datum.p==5 && datum.s=='h'"}],"mark":{"type":"line","interpolate":"step-after","color":"black","strokeWidth":2,"clip":true},"encoding":{"x":{"field":"x","type":"quantitative","scale":{"domain":[0.1,1.0]},"axis":{"orient":"bottom","values":[0.1,0.15,0.2,0.25,0.3,0.35,0.4,0.45,0.5,0.55,0.6,0.65,0.7,0.75,0.8,0.85,0.9,0.95,1.0],"labelExpr":"abs(datum.value*5-round(datum.value*5))<0.001?format(datum.value,'.1f'):''","tickSize":{"condition":{"test":"abs(datum.value*5-round(datum.value*5))<0.001","value":-6},"value":-3},"labelPadding":11,"title":"g − r [mag]","titlePadding":1}},"y":{"field":"y","type":"quantitative","scale":{"domain":[-1.06,1.22]},"axis":{"orient":"left","values":[-1.0,-0.9,-0.8,-0.7,-0.6,-0.5,-0.4,-0.3,-0.2,-0.1,0.0,0.1,0.2,0.3,0.4,0.5,0.6,0.7,0.8,0.9,1.0],"labelExpr":"abs(datum.value*2-round(datum.value*2))<0.001?format(datum.value,'.1f'):''","tickSize":{"condition":{"test":"abs(datum.value*2-round(datum.value*2))<0.001","value":-6},"value":-3},"labelPadding":13,"title":"Log₁₀ Nₙₒᵣₘ","titlePadding":4}}}},
{"data":{"name":"c"},"transform":[{"filter":"datum.p==5 && datum.s=='d'"}],"mark":{"type":"line","interpolate":"step-after","color":"black","strokeWidth":1.5,"strokeDash":[1.5,2.5],"clip":true},"encoding":{"detail":{"field":"k","type":"nominal"},"x":{"field":"x","type":"quantitative","scale":{"domain":[0.1,1.0]},"axis":{"orient":"top","values":[0.1,0.15,0.2,0.25,0.3,0.35,0.4,0.45,0.5,0.55,0.6,0.65,0.7,0.75,0.8,0.85,0.9,0.95,1.0],"labels":false,"tickSize":{"condition":{"test":"abs(datum.value*5-round(datum.value*5))<0.001","value":-6},"value":-3},"title":null}},"y":{"field":"y","type":"quantitative","scale":{"domain":[-1.06,1.22]},"axis":{"orient":"right","values":[-1.0,-0.9,-0.8,-0.7,-0.6,-0.5,-0.4,-0.3,-0.2,-0.1,0.0,0.1,0.2,0.3,0.4,0.5,0.6,0.7,0.8,0.9,1.0,1.1,1.2],"labels":false,"tickSize":{"condition":{"test":"abs(datum.value*2-round(datum.value*2))<0.001","value":-6},"value":-3},"title":null}}}},
{"data":{"name":"c"},"transform":[{"filter":"datum.p==5 && datum.s=='b'"}],"mark":{"type":"line","interpolate":"monotone","color":"#5a5aff","strokeWidth":1,"clip":true},"encoding":{"x":{"field":"x","type":"quantitative","scale":{"domain":[0.1,1.0]},"axis":null},"y":{"field":"y","type":"quantitative","scale":{"domain":[-1.06,1.22]},"axis":null}}},
{"data":{"name":"c"},"transform":[{"filter":"datum.p==5 && datum.s=='r'"}],"mark":{"type":"line","interpolate":"monotone","color":"#ff5a5a","strokeWidth":1,"clip":true},"encoding":{"x":{"field":"x","type":"quantitative","scale":{"domain":[0.1,1.0]},"axis":null},"y":{"field":"y","type":"quantitative","scale":{"domain":[-1.06,1.22]},"axis":null}}},
{"data":{"name":"c"},"transform":[{"filter":"datum.p==5 && datum.s=='g'"}],"mark":{"type":"line","interpolate":"monotone","color":"#3cb43c","strokeWidth":1,"clip":true},"encoding":{"x":{"field":"x","type":"quantitative","scale":{"domain":[0.1,1.0]},"axis":null},"y":{"field":"y","type":"quantitative","scale":{"domain":[-1.06,1.22]},"axis":null}}},
{"data":{"name":"lab"},"transform":[{"filter":"datum.p==5"}],"mark":{"type":"text","align":"left","baseline":"middle","fontSize":12.5,"font":"Liberation Sans","color":"black"},"encoding":{"x":{"field":"x","type":"quantitative","scale":{"domain":[0.1,1.0]},"axis":null},"y":{"field":"y","type":"quantitative","scale":{"domain":[-1.06,1.22]},"axis":null},"text":{"field":"t"}}}
]},
{"width":213,"height":89,"resolve":{"axis":{"x":"independent","y":"independent"}},"layer":[
{"data":{"name":"c"},"transform":[{"filter":"datum.p==6 && datum.s=='h'"}],"mark":{"type":"line","interpolate":"step-after","color":"black","strokeWidth":2,"clip":true},"encoding":{"x":{"field":"x","type":"quantitative","scale":{"domain":[0.1,1.0]},"axis":{"orient":"bottom","values":[0.1,0.15,0.2,0.25,0.3,0.35,0.4,0.45,0.5,0.55,0.6,0.65,0.7,0.75,0.8,0.85,0.9,0.95,1.0],"labelExpr":"abs(datum.value*5-round(datum.value*5))<0.001?format(datum.value,'.1f'):''","tickSize":{"condition":{"test":"abs(datum.value*5-round(datum.value*5))<0.001","value":-6},"value":-3},"labelPadding":11,"title":"g − r [mag]","titlePadding":1}},"y":{"field":"y","type":"quantitative","scale":{"domain":[-1.06,1.22]},"axis":{"orient":"left","values":[-1.0,-0.9,-0.8,-0.7,-0.6,-0.5,-0.4,-0.3,-0.2,-0.1,0.0,0.1,0.2,0.3,0.4,0.5,0.6,0.7,0.8,0.9,1.0],"labelExpr":"abs(datum.value*2-round(datum.value*2))<0.001?format(datum.value,'.1f'):''","tickSize":{"condition":{"test":"abs(datum.value*2-round(datum.value*2))<0.001","value":-6},"value":-3},"labelPadding":13,"title":"Log₁₀ Nₙₒᵣₘ","titlePadding":4}}}},
{"data":{"name":"c"},"transform":[{"filter":"datum.p==6 && datum.s=='d'"}],"mark":{"type":"line","interpolate":"step-after","color":"black","strokeWidth":1.5,"strokeDash":[1.5,2.5],"clip":true},"encoding":{"detail":{"field":"k","type":"nominal"},"x":{"field":"x","type":"quantitative","scale":{"domain":[0.1,1.0]},"axis":{"orient":"top","values":[0.1,0.15,0.2,0.25,0.3,0.35,0.4,0.45,0.5,0.55,0.6,0.65,0.7,0.75,0.8,0.85,0.9,0.95,1.0],"labels":false,"tickSize":{"condition":{"test":"abs(datum.value*5-round(datum.value*5))<0.001","value":-6},"value":-3},"title":null}},"y":{"field":"y","type":"quantitative","scale":{"domain":[-1.06,1.22]},"axis":{"orient":"right","values":[-1.0,-0.9,-0.8,-0.7,-0.6,-0.5,-0.4,-0.3,-0.2,-0.1,0.0,0.1,0.2,0.3,0.4,0.5,0.6,0.7,0.8,0.9,1.0,1.1,1.2],"labels":false,"tickSize":{"condition":{"test":"abs(datum.value*2-round(datum.value*2))<0.001","value":-6},"value":-3},"title":null}}}},
{"data":{"name":"c"},"transform":[{"filter":"datum.p==6 && datum.s=='b'"}],"mark":{"type":"line","interpolate":"monotone","color":"#5a5aff","strokeWidth":1,"clip":true},"encoding":{"x":{"field":"x","type":"quantitative","scale":{"domain":[0.1,1.0]},"axis":null},"y":{"field":"y","type":"quantitative","scale":{"domain":[-1.06,1.22]},"axis":null}}},
{"data":{"name":"c"},"transform":[{"filter":"datum.p==6 && datum.s=='r'"}],"mark":{"type":"line","interpolate":"monotone","color":"#ff5a5a","strokeWidth":1,"clip":true},"encoding":{"x":{"field":"x","type":"quantitative","scale":{"domain":[0.1,1.0]},"axis":null},"y":{"field":"y","type":"quantitative","scale":{"domain":[-1.06,1.22]},"axis":null}}},
{"data":{"name":"c"},"transform":[{"filter":"datum.p==6 && datum.s=='g'"}],"mark":{"type":"line","interpolate":"monotone","color":"#3cb43c","strokeWidth":1,"clip":true},"encoding":{"x":{"field":"x","type":"quantitative","scale":{"domain":[0.1,1.0]},"axis":null},"y":{"field":"y","type":"quantitative","scale":{"domain":[-1.06,1.22]},"axis":null}}},
{"data":{"name":"lab"},"transform":[{"filter":"datum.p==6"}],"mark":{"type":"text","align":"left","baseline":"middle","fontSize":12.5,"font":"Liberation Sans","color":"black"},"encoding":{"x":{"field":"x","type":"quantitative","scale":{"domain":[0.1,1.0]},"axis":null},"y":{"field":"y","type":"quantitative","scale":{"domain":[-1.06,1.22]},"axis":null},"text":{"field":"t"}}}
]}
],
"config":{
"view":{"stroke":"black","strokeWidth":1.2},
"axis":{"domain":false,"grid":false,"labelFont":"Liberation Sans","labelFontSize":11,"labelColor":"black","tickColor":"black","tickWidth":1,"titleFont":"Liberation Sans","titleFontSize":12,"titleFontWeight":"normal","titleColor":"black","labelFlush":false,"labelOverlap":false,"labelBound":false}
}
}
